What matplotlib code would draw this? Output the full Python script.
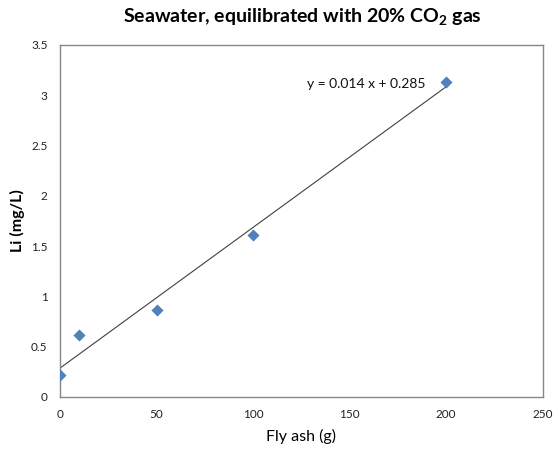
import matplotlib
matplotlib.use("Agg")
import matplotlib.pyplot as plt
import numpy as np

# data
fly_ash = [0, 10, 50, 100, 200]
li_conc = [0.22, 0.61, 0.86, 1.61, 3.13]
slope, intercept = 0.014, 0.285

plt.rcParams['font.family'] = ['Lato', 'DejaVu Sans']

fig = plt.figure(figsize=(5.55, 4.54), dpi=100)
ax = fig.add_axes([0.108, 0.126, 0.870, 0.775])

fit_x = np.array([0, 200])
ax.plot(fit_x, slope * fit_x + intercept, color='#404040', lw=0.8, zorder=2)
ax.scatter(fly_ash, li_conc, marker='D', s=38, color='#4F81BD', zorder=3, linewidths=0)

ax.set_xlim(0, 250)
ax.set_ylim(0, 3.5)
ax.set_xticks(np.arange(0, 251, 50))
ax.set_yticks(np.arange(0, 3.51, 0.5))
ax.set_yticklabels(['0', '0.5', '1', '1.5', '2', '2.5', '3', '3.5'])
ax.tick_params(length=0, labelsize=8.5, pad=9, colors='#222222')
for s in ax.spines.values():
    s.set_color('#868686')
    s.set_linewidth(1.0)

ax.set_xlabel('Fly ash (g)', fontsize=11.5, labelpad=6)
ax.set_ylabel('Li (mg/L)', fontsize=11.5, fontweight='bold', labelpad=4)
fig.suptitle('Seawater, equilibrated with 20% CO$_\\mathregular{2}$ gas', fontsize=14,
             fontweight='bold', x=0.545, y=0.985)

ax.text(128, 3.07, 'y = 0.014 x + 0.285', fontsize=10, color='#111111')

fig.savefig('out.png', dpi=100)
